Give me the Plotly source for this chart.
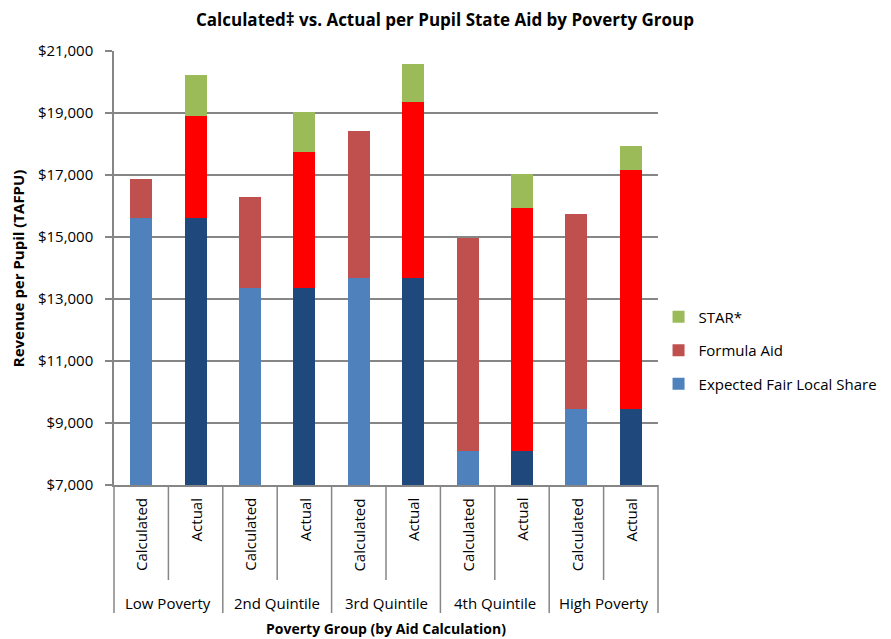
import plotly.graph_objects as go

groups = ["Low Poverty", "2nd Quintile", "3rd Quintile", "4th Quintile", "High Poverty"]
kinds = ["Calculated", "Actual"]
kind_labels = ["Calculated", "Actual"]

# stacked components, one value per bar (Calculated, Actual for each group)
efls = [15600, 15600, 13350, 13350, 13670, 13670, 8100, 8100, 9460, 9460]
formula = [1280, 3290, 2950, 4390, 4760, 5680, 6880, 7830, 6270, 7700]
star = [0, 1350, 0, 1280, 0, 1240, 0, 1100, 0, 770]

bars = [f"{g} | {k}" for g in groups for k in kinds]

calc_blue, act_blue = "#4F81BD", "#1F497D"
calc_red, act_red = "#C0504D", "#FF0000"
green = "#9BBB59"
FONT = "Open Sans"

fig = go.Figure()
fig.add_trace(go.Bar(
    x=bars, y=efls, name="Expected Fair Local Share", legendgroup="a", legendrank=3,
    marker=dict(color=[calc_blue if i % 2 == 0 else act_blue for i in range(len(bars))], line=dict(width=0)),
))
fig.add_trace(go.Bar(
    x=bars, y=formula, name="Formula Aid", legendgroup="b", legendrank=2,
    marker=dict(color=[calc_red if i % 2 == 0 else act_red for i in range(len(bars))], line=dict(width=0)),
))
fig.add_trace(go.Bar(
    x=bars, y=star, name="STAR*", legendgroup="c", legendrank=1,
    marker=dict(color=green, line=dict(width=0)),
))

annotations = []
for i, b in enumerate(bars):
    annotations.append(dict(
        x=b, xref="x", y=-0.026, yref="paper", text=kind_labels[i % 2],
        textangle=-90, showarrow=False, xanchor="center", yanchor="top",
        font=dict(family=FONT, size=15, color="#000"),
    ))
for gi, g in enumerate(groups):
    annotations.append(dict(
        x=2 * gi + 0.5, xref="x", y=-0.272, yref="paper", text=g,
        showarrow=False, xanchor="center", yanchor="middle",
        font=dict(family=FONT, size=15, color="#000"),
    ))
annotations.append(dict(
    x=0.5, xref="paper", y=-0.3295, yref="paper", text="<b>Poverty Group (by Aid Calculation)</b>",
    showarrow=False, xanchor="center", yanchor="middle", font=dict(family=FONT, size=14, color="#000"),
))
annotations.append(dict(
    x=-0.176, xref="paper", y=0.5, yref="paper", text="<b>Revenue per Pupil (TAFPU)</b>",
    textangle=-90, showarrow=False, xanchor="center", yanchor="middle", font=dict(family=FONT, size=15, color="#000"),
))

shapes = []
n = len(bars)
for k in range(n + 1):
    bottom = -0.295 if k % 2 == 0 else -0.219
    shapes.append(dict(type="line", xref="paper", yref="paper", x0=k / n, x1=k / n, y0=0, y1=bottom,
                       line=dict(color="#868686", width=1.5)))

fig.update_layout(
    width=891, height=631,
    margin=dict(l=106, r=241, t=43, b=154),
    barmode="stack", bargap=0.596,
    paper_bgcolor="white", plot_bgcolor="white",
    font=dict(family=FONT, size=15, color="#000"),
    title=dict(text="<b>Calculated‡ vs. Actual per Pupil State Aid by Poverty Group</b>",
               x=437 / 891, xref="container", xanchor="center", y=1 - 12 / 631, yanchor="middle",
               font=dict(family=FONT, size=17, color="#000")),
    xaxis=dict(type="category", showticklabels=False, ticks="", showgrid=False,
               showline=True, linecolor="#868686", linewidth=1.5, range=[-0.5, n - 0.5]),
    yaxis=dict(range=[7000, 21000], tick0=7000, dtick=2000, tickprefix="$", tickformat=",",
               showgrid=True, gridcolor="#868686", gridwidth=1.5,
               showline=True, linecolor="#868686", linewidth=1.5,
               ticks="outside", ticklen=7, tickcolor="#868686", tickwidth=1.5,
               ticklabelstandoff=9,
               tickfont=dict(family=FONT, size=15, color="#000"), zeroline=False),
    legend=dict(x=1.001, xanchor="left", y=0.425, yanchor="top", traceorder="grouped",
                tracegroupgap=11, itemwidth=30, font=dict(family=FONT, size=15, color="#000"),
                bgcolor="rgba(0,0,0,0)"),
    annotations=annotations, shapes=shapes,
)

fig.write_html("out.html")
